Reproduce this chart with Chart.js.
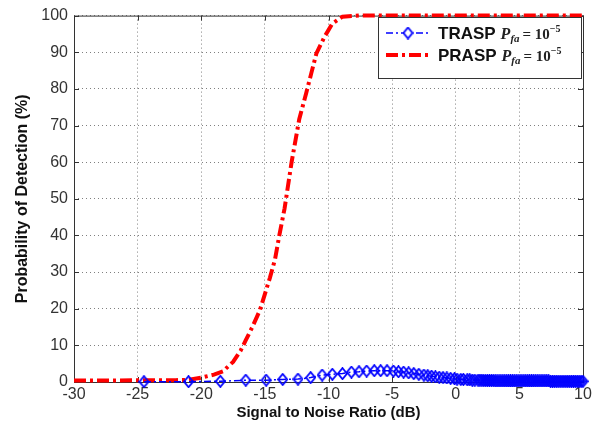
<!DOCTYPE html>
<html>
<head>
<meta charset="utf-8">
<script src="https://cdn.jsdelivr.net/npm/chart.js@4.4.0/dist/chart.umd.min.js"></script>
<style>
  html, body { margin: 0; padding: 0; background: #fff; }
  #wrap { width: 601px; height: 432px; }
</style>
</head>
<body>
<div id="wrap"><canvas id="myChart" width="601" height="432"></canvas></div>
<script>
// x ticks / y ticks
const snrTicks = [-30, -25, -20, -15, -10, -5, 0, 5, 10];
const pdTicks = [0, 10, 20, 30, 40, 50, 60, 70, 80, 90, 100];

// TRASP (blue diamonds)
const traspSnr = [-24.5, -21.0, -18.5, -16.5, -14.9, -13.6, -12.4, -11.4, -10.5, -9.7,
  -8.9, -8.2, -7.6, -7.0, -6.4, -5.9, -5.4, -4.9, -4.5, -4.1,
  -3.7, -3.3, -2.9, -2.5, -2.2, -1.9, -1.6, -1.3, -1.0, -0.7,
  -0.4, -0.1, 0.1, 0.4, 0.6, 0.9, 1.1, 1.3, 1.5,
  1.75, 1.9, 2.05, 2.2, 2.35, 2.5, 2.65, 2.8, 2.95, 3.1,
  3.25, 3.4, 3.55, 3.7, 3.85, 4.0, 4.15, 4.3, 4.45, 4.6,
  4.75, 4.9, 5.05, 5.2, 5.35, 5.5, 5.65, 5.8, 5.95, 6.1,
  6.25, 6.4, 6.55, 6.7, 6.85, 7.0, 7.15, 7.3, 7.45, 7.6,
  7.75, 7.9, 8.05, 8.2, 8.35, 8.5, 8.65, 8.8, 8.95, 9.1,
  9.25, 9.4, 9.55, 9.7, 9.85, 10.0];
const traspPd = [0.1, 0.1, 0.2, 0.5, 0.5, 0.7, 0.8, 1.2, 1.9, 2.1,
  2.3, 2.7, 2.8, 3.0, 3.1, 3.1, 3.1, 3.0, 2.8, 2.7,
  2.5, 2.3, 2.1, 1.9, 1.7, 1.6, 1.4, 1.3, 1.2, 1.1,
  1.0, 0.9, 0.8, 0.7, 0.7, 0.6, 0.6, 0.5, 0.5,
  0.5, 0.5, 0.5, 0.4, 0.4, 0.4, 0.4, 0.4, 0.4, 0.3,
  0.3, 0.3, 0.3, 0.3, 0.3, 0.3, 0.3, 0.3, 0.3, 0.3,
  0.3, 0.3, 0.3, 0.3, 0.3, 0.3, 0.3, 0.3, 0.3, 0.3,
  0.3, 0.3, 0.3, 0.3, 0.3, 0.3, 0.3, 0.3, 0.2, 0.2,
  0.2, 0.2, 0.2, 0.2, 0.2, 0.2, 0.2, 0.2, 0.2, 0.2,
  0.2, 0.2, 0.2, 0.2, 0.2, 0.2];

// PRASP (red dash-dot)
const praspSnr = [-30, -27, -24, -22, -21, -20, -19, -18.3, -17.5, -16.9,
  -16.5, -16, -15.4, -15, -14.6, -14.2, -13.85, -13.45, -12.9, -12.3,
  -11.75, -11.35, -10.95, -10.3, -9.7, -8.9, -8, -7.6, -5, 0, 5, 10];
const praspPd = [0.4, 0.4, 0.5, 0.5, 0.6, 1.2, 2.0, 2.9, 5.5, 8.6,
  11.4, 14.9, 19.5, 24, 28.5, 33.5, 40.3, 47.4, 60, 71.7,
  78.9, 84.3, 89.7, 94.3, 97.8, 99.7, 99.9, 100, 100, 100, 100, 100];

const toPoints = (xs, ys) => xs.map((x, i) => ({ x: x, y: ys[i] }));

const tickFont = { family: "Liberation Sans, Arial, sans-serif", size: 16 };
const xTitleFont = { family: "Liberation Sans, Arial, sans-serif", size: 15, weight: "bold" };
const yTitleFont = { family: "Liberation Sans, Arial, sans-serif", size: 16, weight: "bold" };

// matlab style 'd' marker: a bit taller than wide
const diamond = document.createElement("canvas");
diamond.width = 11;
diamond.height = 13;
(() => {
  const c = diamond.getContext("2d");
  c.strokeStyle = "#0000ff";
  c.lineWidth = 1.8;
  c.beginPath();
  c.moveTo(5.5, 1);
  c.lineTo(10, 6.5);
  c.lineTo(5.5, 12);
  c.lineTo(1, 6.5);
  c.closePath();
  c.stroke();
})();

// box + inward tick marks like matlab
const framePlugin = {
  id: "frame",
  beforeDatasetsDraw(chart) {
    const { ctx, chartArea: a, scales } = chart;
    ctx.save();
    ctx.strokeStyle = "#333";
    ctx.lineWidth = 1;
    ctx.strokeRect(a.left + 0.5, a.top + 0.5, a.right - a.left, a.bottom - a.top);
    ctx.beginPath();
    snrTicks.forEach((v) => {
      const px = Math.round(scales.x.getPixelForValue(v)) + 0.5;
      ctx.moveTo(px, a.bottom); ctx.lineTo(px, a.bottom - 5);
      ctx.moveTo(px, a.top); ctx.lineTo(px, a.top + 5);
    });
    pdTicks.forEach((v) => {
      const py = Math.round(scales.y.getPixelForValue(v)) + 0.5;
      ctx.moveTo(a.left, py); ctx.lineTo(a.left + 5, py);
      ctx.moveTo(a.right, py); ctx.lineTo(a.right - 5, py);
    });
    ctx.stroke();
    ctx.restore();
  },
};

function drawMath(ctx, x, y) {
  ctx.textBaseline = "alphabetic";
  ctx.textAlign = "left";
  ctx.fillStyle = "#222";
  ctx.font = "italic bold 16px 'Liberation Serif', serif";
  ctx.fillText("P", x, y);
  x += ctx.measureText("P").width;
  ctx.font = "italic bold 11px 'Liberation Serif', serif";
  ctx.fillText("fa", x, y + 3);
  x += ctx.measureText("fa").width + 3;
  ctx.font = "bold 15px 'Liberation Serif', serif";
  ctx.fillText("= 10", x, y);
  x += ctx.measureText("= 10").width;
  ctx.font = "bold 10px 'Liberation Serif', serif";
  ctx.fillText("\u22125", x, y - 7);
}

const legendPlugin = {
  id: "mathLegend",
  afterDraw(chart) {
    const ctx = chart.ctx;
    const bx = 378, by = 17, bw = 203, bh = 61;
    ctx.save();
    ctx.fillStyle = "#fff";
    ctx.fillRect(bx, by, bw, bh);
    ctx.strokeStyle = "#333";
    ctx.lineWidth = 1;
    ctx.strokeRect(bx + 0.5, by + 0.5, bw, bh);

    const rows = [
      { name: "TRASP", y: 33, color: "#0000ff", width: 1.5, dash: [7, 3, 2, 3], marker: true },
      { name: "PRASP", y: 55, color: "#ff0000", width: 4, dash: [12, 4, 3, 4], marker: false },
    ];
    rows.forEach((r) => {
      ctx.beginPath();
      ctx.setLineDash(r.dash);
      ctx.strokeStyle = r.color;
      ctx.lineWidth = r.width;
      ctx.moveTo(386, r.y);
      ctx.lineTo(428, r.y);
      ctx.stroke();
      ctx.setLineDash([]);
      if (r.marker) {
        ctx.fillStyle = "#fff";
        ctx.fillRect(404, r.y - 5, 9, 11);
        ctx.drawImage(diamond, 408 - 5.5, r.y - 6.5);
      }
      ctx.fillStyle = "#111";
      ctx.font = "bold 17px 'Liberation Sans', Arial, sans-serif";
      ctx.textBaseline = "alphabetic";
      ctx.fillText(r.name, 438, r.y + 6);
      const w = ctx.measureText(r.name).width;
      drawMath(ctx, 438 + w + 5, r.y + 6);
    });
    ctx.restore();
  },
};

const myChart = new Chart(document.getElementById("myChart"), {
  type: "line",
  data: {
    datasets: [
      {
        label: "TRASP",
        data: toPoints(traspSnr, traspPd),
        borderColor: "#0000ff",
        borderWidth: 1.5,
        borderDash: [7, 3, 2, 3],
        pointStyle: diamond,
        pointRadius: 5,
        tension: 0,
        clip: false,
      },
      {
        label: "PRASP",
        data: toPoints(praspSnr, praspPd),
        borderColor: "#ff0000",
        borderWidth: 4,
        borderDash: [12, 4, 3, 4],
        pointRadius: 0,
        tension: 0,
        clip: false,
      },
    ],
  },
  options: {
    responsive: false,
    animation: false,
    layout: { padding: { top: 12, right: 18, left: 0, bottom: 0 } },
    plugins: { legend: { display: false }, tooltip: { enabled: false } },
    scales: {
      x: {
        type: "linear",
        min: -30,
        max: 10,
        afterBuildTicks: (s) => { s.ticks = snrTicks.map((v) => ({ value: v })); },
        afterFit: (s) => { s.height = 50; },
        ticks: { color: "#333", font: tickFont, padding: 3, maxRotation: 0 },
        grid: { color: "#808080", lineWidth: 1, drawTicks: false },
        border: { display: false, dash: [1, 3] },
        title: { display: true, text: "Signal to Noise Ratio (dB)", color: "#111", font: xTitleFont, padding: { top: 0, bottom: 10 } },
      },
      y: {
        min: 0,
        max: 100,
        afterBuildTicks: (s) => { s.ticks = pdTicks.map((v) => ({ value: v })); },
        afterFit: (s) => { s.width = 74; },
        ticks: { color: "#333", font: tickFont, padding: 6 },
        grid: { color: "#808080", lineWidth: 1, drawTicks: false },
        border: { display: false, dash: [1, 3] },
        title: { display: true, text: "Probability of Detection (%)", color: "#111", font: yTitleFont, padding: { top: 13, bottom: 0 } },
      },
    },
  },
  plugins: [framePlugin, legendPlugin],
});
</script>
</body>
</html>
